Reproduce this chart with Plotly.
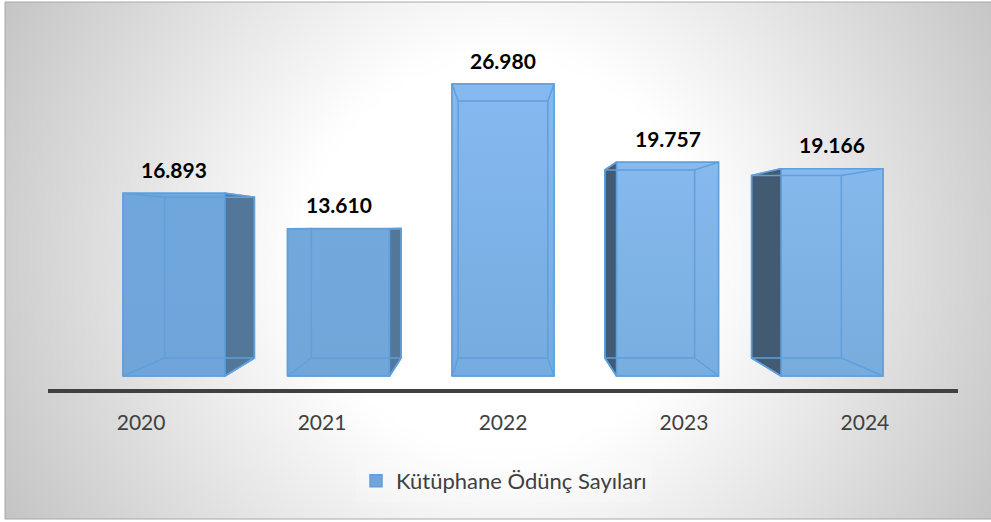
"""Kütüphane ödünç sayıları: sahte 3B kutu grafiği."""

import numpy as np
import plotly.graph_objects as go

years = ["2020", "2021", "2022", "2023", "2024"]
loans = [16893, 13610, 26980, 19757, 19166]
series_name = "Kütüphane Ödünç Sayıları"

# stil
FONT = "Lato"
EDGE = "#5f9fdc"
face_top = ["#6fa6dc", "#72a8dc", "#85b9f0", "#86b9ee", "#85b8ec"]
face_bottom = ["#6fa5d9", "#71a6d9", "#76abdf", "#78aedf", "#78acdd"]
side_color = ["#537799", "#537799", "#537799", "#425a72", "#425a72"]

# perspektif sabitleri (eksen birimleri)
BAR_WIDTH = 0.62
DEPTH = 0.88
CENTER = 2
CENTER_PULL = 0.108
VANISH_Y = 13860
TICK_SPREAD = 1.1
X_RANGE = [-0.766, 4.766]
Y_RANGE = [-1201, 31054]


def back_y(v):
    return VANISH_Y + DEPTH * (v - VANISH_Y)


fig = go.Figure()

# arka plan: dairesel gri degrade
gx = np.linspace(0, 991, 50)
gy = np.linspace(0, 522, 28)
xx, yy = np.meshgrid(gx, gy)
r = np.hypot(xx - 500, yy - 255)
shade = np.clip(255 - (r - 200) * 59 / 365, 196, 255)
fig.add_trace(go.Heatmap(
    x=gx, y=gy, z=shade, zmin=196, zmax=255, zsmooth="best", showscale=False,
    colorscale=[[0, "#c4c4c4"], [1, "#ffffff"]], hoverinfo="skip",
    xaxis="x", yaxis="y",
))

positions = list(range(len(years)))

fig.add_trace(go.Bar(
    x=positions, y=loans, width=BAR_WIDTH, name=series_name, showlegend=True,
    marker=dict(color=face_bottom, line=dict(color=EDGE, width=1.5)),
    xaxis="x2", yaxis="y2",
))

for i, v in zip(positions, loans):
    fl, fr = i - BAR_WIDTH / 2, i + BAR_WIDTH / 2
    bc = i + (CENTER - i) * CENTER_PULL
    bl, br = bc - BAR_WIDTH / 2 * DEPTH, bc + BAR_WIDTH / 2 * DEPTH
    by0, by1 = back_y(0), back_y(v)

    # yüz degradesi
    fig.add_trace(go.Scatter(
        x=[fl, fr, fr, fl, fl], y=[0, 0, v, v, 0], mode="lines", fill="toself",
        line=dict(color=EDGE, width=1.5),
        fillgradient=dict(type="vertical", colorscale=[[0, face_bottom[i]], [1, face_top[i]]]),
        showlegend=False, hoverinfo="skip", xaxis="x2", yaxis="y2",
    ))

    # dışarı taşan yan duvar
    near, far = (fr, br) if i < CENTER else (fl, bl)
    if i != CENTER:
        fig.add_trace(go.Scatter(
            x=[near, far, far, near, near], y=[0, by0, by1, v, 0],
            mode="lines", fill="toself", fillcolor=side_color[i],
            line=dict(color=EDGE, width=1.5),
            showlegend=False, hoverinfo="skip", xaxis="x2", yaxis="y2",
        ))

    # arka duvar ve köşegenler
    fig.add_trace(go.Scatter(
        x=[bl, br, br, bl, bl, None, fl, bl, None, fr, br, None, fl, bl, None, fr, br],
        y=[by0, by0, by1, by1, by0, None, 0, by0, None, 0, by0, None, v, by1, None, v, by1],
        mode="lines", line=dict(color=EDGE, width=1.5),
        showlegend=False, hoverinfo="skip", xaxis="x2", yaxis="y2",
    ))

    fig.add_annotation(
        x=i, y=v, xref="x2", yref="y2", yshift=24, showarrow=False,
        text=f"<b>{v:,}</b>".replace(",", "."),
        font=dict(family=FONT, size=21, color="#000000"),
    )

# grafik alanının ince çerçevesi
fig.add_shape(
    type="rect", xref="paper", yref="paper", x0=5 / 991, x1=1.01, y0=3 / 522, y1=520 / 522,
    line=dict(color="#a8a8a8", width=1),
)

fig.update_layout(
    width=991, height=522,
    margin=dict(l=0, r=0, t=0, b=0),
    paper_bgcolor="#ffffff",
    plot_bgcolor="rgba(0,0,0,0)",
    font=dict(family=FONT, color="#404040"),
    xaxis=dict(domain=[5 / 991, 1], range=[0, 991], visible=False),
    yaxis=dict(domain=[3 / 522, 520 / 522], range=[522, 0], visible=False),
    xaxis2=dict(
        domain=[48 / 991, 958 / 991], range=X_RANGE, anchor="y2",
        tickmode="array",
        tickvals=[CENTER + (i - CENTER) * TICK_SPREAD for i in positions],
        ticktext=years, ticks="", ticklabelstandoff=12,
        tickfont=dict(family=FONT, size=21, color="#404040"),
        showgrid=False, zeroline=False, showline=True,
        linecolor="#404040", linewidth=4,
    ),
    yaxis2=dict(
        domain=[133 / 522, 482 / 522], range=Y_RANGE, anchor="x2",
        visible=False, showgrid=False, zeroline=False,
    ),
    showlegend=True,
    legend=dict(
        x=504 / 991, y=41 / 522, xanchor="center", yanchor="middle",
        bgcolor="rgba(255,255,255,0.2)",
        font=dict(family=FONT, size=22, color="#404040"),
    ),
)

fig.write_html(
    "out.html",
    config={"displayModeBar": False},
    post_script="document.body.style.margin = '0';",
)
